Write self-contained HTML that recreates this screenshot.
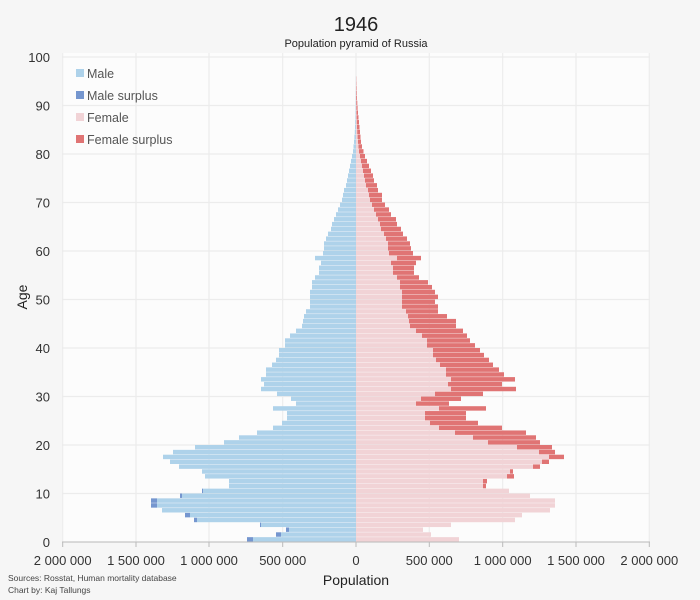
<!DOCTYPE html>
<html><head><meta charset="utf-8"><style>
html,body{margin:0;padding:0;background:#f6f6f6;}
svg{display:block;font-family:"Liberation Sans",sans-serif;}
</style></head><body>
<svg id="s" width="700" height="600" xmlns="http://www.w3.org/2000/svg">
<rect x="0" y="0" width="700" height="600" fill="#f6f6f6"/>
<rect x="62" y="53" width="588" height="489" fill="#fcfcfc"/>
<g id="grid" stroke="#ececec" stroke-width="1.2"></g>
<g id="bars"></g>
<line x1="62" y1="542" x2="650" y2="542" stroke="#bbb" stroke-width="1"/>
<g id="ticks" stroke="#bbb"></g>
<g id="labels" font-size="13" fill="#333"></g>
<text x="356" y="31" font-size="20" text-anchor="middle" fill="#222">1946</text>
<text x="356" y="47" font-size="11" text-anchor="middle" fill="#222">Population pyramid of Russia</text>
<text x="27" y="297" font-size="14" text-anchor="middle" fill="#222" transform="rotate(-90 27 297)">Age</text>
<text x="356" y="585" font-size="14" text-anchor="middle" fill="#222">Population</text>
<text x="8" y="581" font-size="8.5" fill="#444">Sources: Rosstat, Human mortality database</text>
<text x="8" y="593" font-size="8.5" fill="#444">Chart by: Kaj Tallungs</text>
<g font-size="12.5" fill="#555">
<rect x="76" y="69" width="8" height="8" fill="#aed2ea"/><text x="87" y="78">Male</text>
<rect x="76" y="91" width="8" height="8" fill="#7596cf"/><text x="87" y="100">Male surplus</text>
<rect x="76" y="113" width="8" height="8" fill="#f1d3d6"/><text x="87" y="122">Female</text>
<rect x="76" y="135" width="8" height="8" fill="#e07474"/><text x="87" y="144">Female surplus</text>
</g>
</svg>
<script>
var NS="http://www.w3.org/2000/svg";
function el(p,t,a,txt){var e=document.createElementNS(NS,t);for(var k in a)e.setAttribute(k,a[k]);if(txt!=null)e.textContent=txt;document.getElementById(p).appendChild(e);return e;}
var X0=356,Y0=542,H=4.85;
var xs=[62.7,136,209,282.7,356,429.3,502.7,576,649.3];
var xl=["2 000 000","1 500 000","1 000 000","500 000","0","500 000","1 000 000","1 500 000","2 000 000"];
for(var i=0;i<9;i++){el("grid","line",{x1:xs[i],y1:53,x2:xs[i],y2:542});el("ticks","line",{x1:xs[i],y1:542,x2:xs[i],y2:547});el("labels","text",{x:xs[i],y:565,"text-anchor":"middle"},xl[i]);}
for(var a=0;a<=100;a+=10){var y=Y0-a*H;el("grid","line",{x1:62,y1:y,x2:650,y2:y});el("labels","text",{x:50,y:y+5,"text-anchor":"end"},""+a);}
var M=[109,80,70,96,162,171,194,205,205,176,154,127,127,151,154,177,186,193,183,161,132,117,99,83,74,69,69,83,60,65,79,95,92,95,90,90,84,80,77,77,71,71,66,60,54,53,52,50,46,46,46,46,44,44,41,37,37,35,41,33,32,32,30,28,25,24,22,20,18,16,14,13,12,10,9,8,7,6,5,4,3,2.5,2,1.6,1.2,1,0.8,0.6,0.5,0.4,0.3,0.2,0.2,0.1,0.1,0.1];
var F=[103,75,67,95,159,166,194,199,199,174,153,130,131,158,157,184,193,208,199,196,184,180,170,146,122,110,110,130,93,105,127,160,146,159,148,143,137,133,128,124,119,114,111,107,100,100,91,82,82,79,82,79,76,72,63,58,58,60,65,57,55,54,51,47,45,41,40,35,33,29,26,26,22,21,18,17,15,13,11,9,7.5,6,5,4.5,4,3.5,3,2.5,2,1.6,1.3,1,0.8,0.6,0.4,0.3];
for(var a=0;a<M.length;a++){
 var m=M[a],f=F[a],mn=Math.min(m,f),y=Y0-(a+1)*H,h=H-0.4;
 el("bars","rect",{x:X0-mn,y:y,width:mn,height:h,fill:"#aed2ea"});
 if(m>mn)el("bars","rect",{x:X0-m,y:y,width:m-mn,height:h,fill:"#7596cf"});
 el("bars","rect",{x:X0,y:y,width:mn,height:h,fill:"#f1d3d6"});
 if(f>mn)el("bars","rect",{x:X0+mn,y:y,width:f-mn,height:h,fill:"#e07474"});
}
</script>
</body></html>
